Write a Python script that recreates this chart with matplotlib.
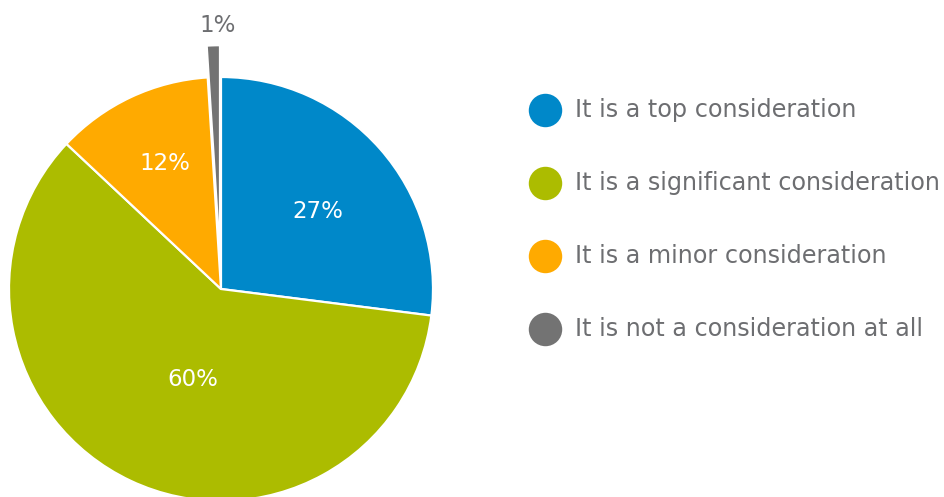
import matplotlib
matplotlib.use("Agg")
import matplotlib.pyplot as plt

# Survey answers, share of respondents (%)
labels = [
    "It is a top consideration",
    "It is a significant consideration",
    "It is a minor consideration",
    "It is not a consideration at all",
]
shares = [27, 60, 12, 1]
colors = ["#0088C9", "#ACBC00", "#FFAA00", "#737373"]
explode_frac = [0, 0, 0, 0.15]

TEXT_GREY = "#6D6E71"
FONT = "DejaVu Sans"

W, H = 944, 497
fig = plt.figure(figsize=(W / 100, H / 100), dpi=100)
ax = fig.add_axes([0, 0, 1, 1])

cx, cy, r = 221, 208, 212
# pie() takes explode in data units, so scale by the radius
wedges, _ = ax.pie(
    shares, colors=colors, explode=[e * r for e in explode_frac],
    startangle=90, counterclock=False,
    center=(cx, cy), radius=r, frame=True,
    wedgeprops=dict(edgecolor="white", linewidth=1.6),
)
ax.set_xlim(0, W)
ax.set_ylim(0, H)
ax.set_aspect("equal")
ax.axis("off")

# percentage labels (offsets from pie centre, in px)
label_offsets = [(97, 77), (-28, -90), (-56, 126), (-3, 264)]
label_colors = ["white", "white", "white", TEXT_GREY]
for v, (dx, dy), c in zip(shares, label_offsets, label_colors):
    ax.text(cx + dx, cy + dy, f"{v}%", ha="center", va="center",
            fontsize=16.5, color=c, family=FONT)

# legend: coloured dots + text
leg_y = [387, 314, 241, 168]
for lab, c, y in zip(labels, colors, leg_y):
    ax.scatter([545], [y], s=580, color=c, linewidths=0, zorder=3)
    ax.text(575, y, lab, ha="left", va="center", fontsize=17.2,
            color=TEXT_GREY, family=FONT)

fig.savefig("out.png", dpi=100)
